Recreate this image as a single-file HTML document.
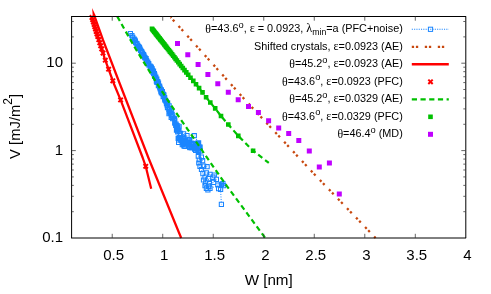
<!DOCTYPE html>
<html><head><meta charset="utf-8"><title>plot</title>
<style>html,body{margin:0;padding:0;background:#fff;}body{width:491px;height:294px;overflow:hidden;font-family:"Liberation Sans",sans-serif;}</style>
</head><body>
<svg width="491" height="294" viewBox="0 0 491 294" style="display:block;will-change:transform">
<rect width="491" height="294" fill="#fff"/>
<path d="M130.45,33.53 L131.93,35.70 L132.84,37.42 L134.15,39.03 L134.83,40.09 L135.38,41.18 L135.64,42.45 L136.78,43.47 L137.00,44.01 L137.84,45.44 L138.77,46.66 L139.48,47.62 L140.11,49.00 L140.56,50.44 L141.50,51.43 L141.90,52.06 L142.63,53.33 L143.54,54.53 L143.93,55.36 L144.54,57.04 L145.10,57.92 L146.06,58.62 L146.60,60.46 L146.68,61.18 L147.83,62.19 L148.66,63.50 L148.77,64.83 L150.08,65.97 L150.99,66.93 L151.28,67.62 L151.96,68.65 L152.14,69.34 L152.41,70.41 L153.54,70.96 L153.01,72.45 L154.39,73.46 L153.61,73.60 L154.79,74.97 L154.64,76.32 L155.85,77.04 L155.92,78.03 L156.83,79.00 L156.80,79.90 L156.36,81.01 L157.76,81.74 L156.95,82.37 L158.51,83.00 L158.46,84.63 L158.35,85.70 L159.56,86.18 L159.85,87.30 L160.14,88.35 L160.16,88.88 L161.36,89.91 L160.82,91.07 L162.36,91.64 L161.32,92.64 L162.33,93.52 L163.53,94.26 L163.86,95.12 L163.15,96.52 L164.60,97.49 L164.56,98.23 L164.84,99.26 L165.05,100.11 L165.88,100.96 L166.39,102.02 L167.56,102.88 L166.45,103.62 L167.10,104.87 L167.29,105.65 L169.10,105.83 L167.54,107.46 L168.95,108.37 L168.78,109.40 L169.66,110.02 L171.60,111.16 L169.85,111.97 L170.48,112.90 L168.99,113.71 L172.20,114.46 L171.77,115.91 L172.89,116.97 L171.24,117.42 L172.72,118.59 L174.29,118.68 L174.70,119.91 L174.76,120.82 L174.72,122.41 L174.83,123.08 L176.06,123.99 L175.66,125.25 L177.09,125.72 L179.07,126.43 L177.76,127.58 L177.39,128.75 L177.86,129.65 L176.51,130.04 L179.03,131.10 L177.74,131.90 L180.48,133.38 L198.51,143.40 L189.96,147.67 L186.99,135.57 L184.95,146.42 L194.52,147.07 L183.97,137.78 L183.62,133.93 L191.91,147.89 L184.93,140.86 L189.89,144.17 L189.66,139.61 L183.42,143.17 L183.26,140.24 L189.59,147.17 L184.90,143.26 L195.63,150.37 L188.10,143.14 L178.68,139.79 L179.31,137.51 L188.71,140.22 L184.33,141.72 L196.68,148.51 L183.87,145.77 L187.79,142.16 L196.61,148.92 L187.78,143.50 L187.16,142.68 L198.00,142.89 L198.69,151.27 L199.16,146.77 L181.12,140.51 L185.65,143.00 L196.02,145.54 L193.68,144.58 L198.37,147.02 L197.89,149.84 L200.14,147.06 L186.98,142.87 L182.31,144.64 L178.19,138.25 L178.56,142.34 L192.96,146.83 L196.11,146.27 L186.60,142.64 L185.54,143.55 L198.53,145.83 L183.50,138.77 L194.06,146.13 L193.04,145.99 L197.27,144.42 L181.03,139.04 L196.07,147.87 L191.46,143.34 L180.84,139.90 L181.50,140.75 L182.85,142.97 L194.60,149.18 L182.60,141.10 L186.20,141.79 L191.08,146.97 L200.37,150.86 L185.80,143.26 L185.43,142.57 L198.38,152.44 L193.04,143.72 L186.89,142.76 L180.43,137.68 L184.41,143.08 L196.81,145.41 L183.73,144.08 L194.30,135.70 L198.60,142.90 L198.30,156.10 L201.40,157.10 L199.30,160.00 L202.60,160.70 L198.80,163.00 L200.00,166.40 L203.60,166.10 L207.10,166.70 L201.50,169.50 L202.90,173.60 L206.40,172.90 L210.00,174.30 L214.30,175.00 L205.00,177.10 L208.60,178.60 L212.90,177.10 L216.40,179.30 L203.50,180.00 L205.70,182.90 L209.30,183.60 L213.60,182.40 L205.00,185.60 L208.60,186.30 L206.40,188.40 L210.00,188.30 L207.90,190.00 L217.90,185.00 L221.40,184.30 L223.60,185.70 L218.60,188.60 L222.90,183.60 L220.60,189.50 L221.40,204.30" fill="none" stroke="#1a85ff" stroke-width="1" stroke-dasharray="1 1.5"/>
<path d="M128.3,31.4h4.2v4.2h-4.2zM129.8,33.6h4.2v4.2h-4.2zM130.7,35.3h4.2v4.2h-4.2zM132.1,36.9h4.2v4.2h-4.2zM132.7,38.0h4.2v4.2h-4.2zM133.3,39.1h4.2v4.2h-4.2zM133.5,40.4h4.2v4.2h-4.2zM134.7,41.4h4.2v4.2h-4.2zM134.9,41.9h4.2v4.2h-4.2zM135.7,43.3h4.2v4.2h-4.2zM136.7,44.6h4.2v4.2h-4.2zM137.4,45.5h4.2v4.2h-4.2zM138.0,46.9h4.2v4.2h-4.2zM138.5,48.3h4.2v4.2h-4.2zM139.4,49.3h4.2v4.2h-4.2zM139.8,50.0h4.2v4.2h-4.2zM140.5,51.2h4.2v4.2h-4.2zM141.4,52.4h4.2v4.2h-4.2zM141.8,53.3h4.2v4.2h-4.2zM142.4,54.9h4.2v4.2h-4.2zM143.0,55.8h4.2v4.2h-4.2zM144.0,56.5h4.2v4.2h-4.2zM144.5,58.4h4.2v4.2h-4.2zM144.6,59.1h4.2v4.2h-4.2zM145.7,60.1h4.2v4.2h-4.2zM146.6,61.4h4.2v4.2h-4.2zM146.7,62.7h4.2v4.2h-4.2zM148.0,63.9h4.2v4.2h-4.2zM148.9,64.8h4.2v4.2h-4.2zM149.2,65.5h4.2v4.2h-4.2zM149.9,66.5h4.2v4.2h-4.2zM150.0,67.2h4.2v4.2h-4.2zM150.3,68.3h4.2v4.2h-4.2zM151.4,68.9h4.2v4.2h-4.2zM150.9,70.3h4.2v4.2h-4.2zM152.3,71.4h4.2v4.2h-4.2zM151.5,71.5h4.2v4.2h-4.2zM152.7,72.9h4.2v4.2h-4.2zM152.5,74.2h4.2v4.2h-4.2zM153.7,74.9h4.2v4.2h-4.2zM153.8,75.9h4.2v4.2h-4.2zM154.7,76.9h4.2v4.2h-4.2zM154.7,77.8h4.2v4.2h-4.2zM154.3,78.9h4.2v4.2h-4.2zM155.7,79.6h4.2v4.2h-4.2zM154.8,80.3h4.2v4.2h-4.2zM156.4,80.9h4.2v4.2h-4.2zM156.4,82.5h4.2v4.2h-4.2zM156.3,83.6h4.2v4.2h-4.2zM157.5,84.1h4.2v4.2h-4.2zM157.7,85.2h4.2v4.2h-4.2zM158.0,86.2h4.2v4.2h-4.2zM158.1,86.8h4.2v4.2h-4.2zM159.3,87.8h4.2v4.2h-4.2zM158.7,89.0h4.2v4.2h-4.2zM160.3,89.5h4.2v4.2h-4.2zM159.2,90.5h4.2v4.2h-4.2zM160.2,91.4h4.2v4.2h-4.2zM161.4,92.2h4.2v4.2h-4.2zM161.8,93.0h4.2v4.2h-4.2zM161.1,94.4h4.2v4.2h-4.2zM162.5,95.4h4.2v4.2h-4.2zM162.5,96.1h4.2v4.2h-4.2zM162.7,97.2h4.2v4.2h-4.2zM162.9,98.0h4.2v4.2h-4.2zM163.8,98.9h4.2v4.2h-4.2zM164.3,99.9h4.2v4.2h-4.2zM165.5,100.8h4.2v4.2h-4.2zM164.4,101.5h4.2v4.2h-4.2zM165.0,102.8h4.2v4.2h-4.2zM165.2,103.6h4.2v4.2h-4.2zM167.0,103.7h4.2v4.2h-4.2zM165.4,105.4h4.2v4.2h-4.2zM166.9,106.3h4.2v4.2h-4.2zM166.7,107.3h4.2v4.2h-4.2zM167.6,107.9h4.2v4.2h-4.2zM169.5,109.1h4.2v4.2h-4.2zM167.7,109.9h4.2v4.2h-4.2zM168.4,110.8h4.2v4.2h-4.2zM166.9,111.6h4.2v4.2h-4.2zM170.1,112.4h4.2v4.2h-4.2zM169.7,113.8h4.2v4.2h-4.2zM170.8,114.9h4.2v4.2h-4.2zM169.1,115.3h4.2v4.2h-4.2zM170.6,116.5h4.2v4.2h-4.2zM172.2,116.6h4.2v4.2h-4.2zM172.6,117.8h4.2v4.2h-4.2zM172.7,118.7h4.2v4.2h-4.2zM172.6,120.3h4.2v4.2h-4.2zM172.7,121.0h4.2v4.2h-4.2zM174.0,121.9h4.2v4.2h-4.2zM173.6,123.2h4.2v4.2h-4.2zM175.0,123.6h4.2v4.2h-4.2zM177.0,124.3h4.2v4.2h-4.2zM175.7,125.5h4.2v4.2h-4.2zM175.3,126.6h4.2v4.2h-4.2zM175.8,127.6h4.2v4.2h-4.2zM174.4,127.9h4.2v4.2h-4.2zM176.9,129.0h4.2v4.2h-4.2zM175.6,129.8h4.2v4.2h-4.2zM178.4,131.3h4.2v4.2h-4.2zM196.4,141.3h4.2v4.2h-4.2zM187.9,145.6h4.2v4.2h-4.2zM184.9,133.5h4.2v4.2h-4.2zM182.8,144.3h4.2v4.2h-4.2zM192.4,145.0h4.2v4.2h-4.2zM181.9,135.7h4.2v4.2h-4.2zM181.5,131.8h4.2v4.2h-4.2zM189.8,145.8h4.2v4.2h-4.2zM182.8,138.8h4.2v4.2h-4.2zM187.8,142.1h4.2v4.2h-4.2zM187.6,137.5h4.2v4.2h-4.2zM181.3,141.1h4.2v4.2h-4.2zM181.2,138.1h4.2v4.2h-4.2zM187.5,145.1h4.2v4.2h-4.2zM182.8,141.2h4.2v4.2h-4.2zM193.5,148.3h4.2v4.2h-4.2zM186.0,141.0h4.2v4.2h-4.2zM176.6,137.7h4.2v4.2h-4.2zM177.2,135.4h4.2v4.2h-4.2zM186.6,138.1h4.2v4.2h-4.2zM182.2,139.6h4.2v4.2h-4.2zM194.6,146.4h4.2v4.2h-4.2zM181.8,143.7h4.2v4.2h-4.2zM185.7,140.1h4.2v4.2h-4.2zM194.5,146.8h4.2v4.2h-4.2zM185.7,141.4h4.2v4.2h-4.2zM185.1,140.6h4.2v4.2h-4.2zM195.9,140.8h4.2v4.2h-4.2zM196.6,149.2h4.2v4.2h-4.2zM197.1,144.7h4.2v4.2h-4.2zM179.0,138.4h4.2v4.2h-4.2zM183.6,140.9h4.2v4.2h-4.2zM193.9,143.4h4.2v4.2h-4.2zM191.6,142.5h4.2v4.2h-4.2zM196.3,144.9h4.2v4.2h-4.2zM195.8,147.7h4.2v4.2h-4.2zM198.0,145.0h4.2v4.2h-4.2zM184.9,140.8h4.2v4.2h-4.2zM180.2,142.5h4.2v4.2h-4.2zM176.1,136.2h4.2v4.2h-4.2zM176.5,140.2h4.2v4.2h-4.2zM190.9,144.7h4.2v4.2h-4.2zM194.0,144.2h4.2v4.2h-4.2zM184.5,140.5h4.2v4.2h-4.2zM183.4,141.4h4.2v4.2h-4.2zM196.4,143.7h4.2v4.2h-4.2zM181.4,136.7h4.2v4.2h-4.2zM192.0,144.0h4.2v4.2h-4.2zM190.9,143.9h4.2v4.2h-4.2zM195.2,142.3h4.2v4.2h-4.2zM178.9,136.9h4.2v4.2h-4.2zM194.0,145.8h4.2v4.2h-4.2zM189.4,141.2h4.2v4.2h-4.2zM178.7,137.8h4.2v4.2h-4.2zM179.4,138.6h4.2v4.2h-4.2zM180.7,140.9h4.2v4.2h-4.2zM192.5,147.1h4.2v4.2h-4.2zM180.5,139.0h4.2v4.2h-4.2zM184.1,139.7h4.2v4.2h-4.2zM189.0,144.9h4.2v4.2h-4.2zM198.3,148.8h4.2v4.2h-4.2zM183.7,141.2h4.2v4.2h-4.2zM183.3,140.5h4.2v4.2h-4.2zM196.3,150.3h4.2v4.2h-4.2zM190.9,141.6h4.2v4.2h-4.2zM184.8,140.7h4.2v4.2h-4.2zM178.3,135.6h4.2v4.2h-4.2zM182.3,141.0h4.2v4.2h-4.2zM194.7,143.3h4.2v4.2h-4.2zM181.6,142.0h4.2v4.2h-4.2zM192.2,133.6h4.2v4.2h-4.2zM196.5,140.8h4.2v4.2h-4.2zM196.2,154.0h4.2v4.2h-4.2zM199.3,155.0h4.2v4.2h-4.2zM197.2,157.9h4.2v4.2h-4.2zM200.5,158.6h4.2v4.2h-4.2zM196.7,160.9h4.2v4.2h-4.2zM197.9,164.3h4.2v4.2h-4.2zM201.5,164.0h4.2v4.2h-4.2zM205.0,164.6h4.2v4.2h-4.2zM199.4,167.4h4.2v4.2h-4.2zM200.8,171.5h4.2v4.2h-4.2zM204.3,170.8h4.2v4.2h-4.2zM207.9,172.2h4.2v4.2h-4.2zM212.2,172.9h4.2v4.2h-4.2zM202.9,175.0h4.2v4.2h-4.2zM206.5,176.5h4.2v4.2h-4.2zM210.8,175.0h4.2v4.2h-4.2zM214.3,177.2h4.2v4.2h-4.2zM201.4,177.9h4.2v4.2h-4.2zM203.6,180.8h4.2v4.2h-4.2zM207.2,181.5h4.2v4.2h-4.2zM211.5,180.3h4.2v4.2h-4.2zM202.9,183.5h4.2v4.2h-4.2zM206.5,184.2h4.2v4.2h-4.2zM204.3,186.3h4.2v4.2h-4.2zM207.9,186.2h4.2v4.2h-4.2zM205.8,187.9h4.2v4.2h-4.2zM215.8,182.9h4.2v4.2h-4.2zM219.3,182.2h4.2v4.2h-4.2zM221.5,183.6h4.2v4.2h-4.2zM216.5,186.5h4.2v4.2h-4.2zM220.8,181.5h4.2v4.2h-4.2zM218.5,187.4h4.2v4.2h-4.2zM219.3,202.2h4.2v4.2h-4.2z" fill="none" stroke="#1a85ff" stroke-width="1.05"/>
<path d="M170.70,17.30 L243.50,98.20 L314.60,174.50 L375.60,238.00" fill="none" stroke="#c8480f" stroke-width="2.3" stroke-dasharray="2.3 2.2 2.3 6.26" stroke-dashoffset="1.3"/>
<clipPath id="c"><rect x="71.6" y="16.5" width="393.9" height="221.5"/></clipPath>
<path d="M94.60,16.40 L103.00,40.00 L119.90,84.00 L148.50,158.00 L178.70,232.00 L181.20,238.00" fill="none" stroke="#ff0000" stroke-width="2.25" stroke-linejoin="round"/>
<path d="M92.1,8 L92.8,16.6 L96.1,16.6 Z" fill="#ff0000"/>
<path d="M91.70,16.40 L96.20,31.50 L104.90,59.10 L114.00,84.00 L120.60,99.90 L142.80,158.00 L145.70,166.30 L151.20,188.70" fill="none" stroke="#ff0000" stroke-width="2.25" stroke-linejoin="round"/>
<path d="M89.8,15.3L94.2,19.7M89.8,19.7L94.2,15.3" stroke="#ff0000" stroke-width="2.0" fill="none"/>
<path d="M90.5,17.6L94.9,22.0M90.5,22.0L94.9,17.6" stroke="#ff0000" stroke-width="2.0" fill="none"/>
<path d="M91.2,19.9L95.6,24.3M91.2,24.3L95.6,19.9" stroke="#ff0000" stroke-width="2.0" fill="none"/>
<path d="M91.9,22.2L96.3,26.6M91.9,26.6L96.3,22.2" stroke="#ff0000" stroke-width="2.0" fill="none"/>
<path d="M92.6,24.6L97.0,29.0M92.6,29.0L97.0,24.6" stroke="#ff0000" stroke-width="2.0" fill="none"/>
<path d="M93.3,26.9L97.7,31.3M93.3,31.3L97.7,26.9" stroke="#ff0000" stroke-width="2.0" fill="none"/>
<path d="M94.0,29.3L98.4,33.7M94.0,33.7L98.4,29.3" stroke="#ff0000" stroke-width="2.0" fill="none"/>
<path d="M94.8,31.9L99.2,36.3M94.8,36.3L99.2,31.9" stroke="#ff0000" stroke-width="2.0" fill="none"/>
<path d="M95.6,34.4L100.0,38.8M95.6,38.8L100.0,34.4" stroke="#ff0000" stroke-width="2.0" fill="none"/>
<path d="M96.6,37.5L101.0,41.9M96.6,41.9L101.0,37.5" stroke="#ff0000" stroke-width="2.0" fill="none"/>
<path d="M97.6,40.6L102.0,45.0M97.6,45.0L102.0,40.6" stroke="#ff0000" stroke-width="2.0" fill="none"/>
<path d="M98.5,43.6L102.9,48.0M98.5,48.0L102.9,43.6" stroke="#ff0000" stroke-width="2.0" fill="none"/>
<path d="M99.5,46.7L103.9,51.1M99.5,51.1L103.9,46.7" stroke="#ff0000" stroke-width="2.0" fill="none"/>
<path d="M100.8,50.9L105.2,55.3M100.8,55.3L105.2,50.9" stroke="#ff0000" stroke-width="2.0" fill="none"/>
<path d="M103.1,58.0L107.5,62.4M103.1,62.4L107.5,58.0" stroke="#ff0000" stroke-width="2.0" fill="none"/>
<path d="M106.4,67.0L110.8,71.4M106.4,71.4L110.8,67.0" stroke="#ff0000" stroke-width="2.0" fill="none"/>
<path d="M110.6,78.6L115.0,83.0M110.6,83.0L115.0,78.6" stroke="#ff0000" stroke-width="2.0" fill="none"/>
<path d="M118.4,97.7L122.8,102.1M118.4,102.1L122.8,97.7" stroke="#ff0000" stroke-width="2.0" fill="none"/>
<path d="M143.5,164.1L147.9,168.5M143.5,168.5L147.9,164.1" stroke="#ff0000" stroke-width="2.0" fill="none"/>
<path d="M117.30,16.40 L127.10,34.00 L135.60,48.80 L148.90,70.50 L158.40,85.80 L167.80,100.30 L177.60,114.90 L187.60,129.30 L197.70,144.00 L207.40,158.20 L217.10,172.10 L227.10,186.40 L244.50,209.90 L265.20,238.00" fill="none" stroke="#00c000" stroke-width="2.2" stroke-dasharray="5.2 3.5"/>
<path d="M151.80,28.60 L190.50,77.70 L193.30,80.90 L196.00,84.20 L199.10,88.10 L202.50,92.40 L206.10,97.30 L210.30,102.50 L215.20,108.40 L221.00,116.00 L228.30,124.50 L238.30,135.90 L253.10,150.80 L268.80,162.90" fill="none" stroke="#00c000" stroke-width="2.2" stroke-dasharray="5.2 3.5"/>
<path d="M185.9,72.5h4.6v4.6h-4.6zM184.0,70.1h4.6v4.6h-4.6zM182.2,67.8h4.6v4.6h-4.6zM180.5,65.7h4.6v4.6h-4.6zM178.9,63.7h4.6v4.6h-4.6zM177.4,61.8h4.6v4.6h-4.6zM176.0,59.9h4.6v4.6h-4.6zM174.6,58.2h4.6v4.6h-4.6zM173.3,56.6h4.6v4.6h-4.6zM172.1,55.0h4.6v4.6h-4.6zM170.9,53.5h4.6v4.6h-4.6zM169.8,52.0h4.6v4.6h-4.6zM168.7,50.6h4.6v4.6h-4.6zM167.6,49.3h4.6v4.6h-4.6zM166.6,48.0h4.6v4.6h-4.6zM165.6,46.7h4.6v4.6h-4.6zM164.6,45.5h4.6v4.6h-4.6zM163.7,44.3h4.6v4.6h-4.6zM162.8,43.2h4.6v4.6h-4.6zM162.0,42.1h4.6v4.6h-4.6zM161.1,41.0h4.6v4.6h-4.6zM160.3,40.0h4.6v4.6h-4.6zM159.5,39.0h4.6v4.6h-4.6zM158.7,38.0h4.6v4.6h-4.6zM158.0,37.1h4.6v4.6h-4.6zM157.3,36.1h4.6v4.6h-4.6zM156.5,35.2h4.6v4.6h-4.6zM155.8,34.3h4.6v4.6h-4.6zM155.2,33.5h4.6v4.6h-4.6zM154.5,32.6h4.6v4.6h-4.6zM153.8,31.8h4.6v4.6h-4.6zM153.2,31.0h4.6v4.6h-4.6zM152.6,30.2h4.6v4.6h-4.6zM152.0,29.4h4.6v4.6h-4.6zM151.4,28.7h4.6v4.6h-4.6zM150.8,27.9h4.6v4.6h-4.6zM150.2,27.2h4.6v4.6h-4.6zM149.7,26.5h4.6v4.6h-4.6zM188.2,75.4h4.6v4.6h-4.6zM191.0,78.6h4.6v4.6h-4.6zM193.7,81.9h4.6v4.6h-4.6zM196.8,85.8h4.6v4.6h-4.6zM200.2,90.1h4.6v4.6h-4.6zM203.8,95.0h4.6v4.6h-4.6zM208.0,100.2h4.6v4.6h-4.6zM212.9,106.1h4.6v4.6h-4.6zM218.7,113.7h4.6v4.6h-4.6zM226.0,122.2h4.6v4.6h-4.6zM236.0,133.6h4.6v4.6h-4.6zM250.8,148.5h4.6v4.6h-4.6z" fill="#00c000"/>
<path d="M175.0,40.9h5.0v5.0h-5.0zM185.3,52.2h5.0v5.0h-5.0zM195.6,61.9h5.0v5.0h-5.0zM205.4,71.9h5.0v5.0h-5.0zM215.3,81.2h5.0v5.0h-5.0zM225.8,89.7h5.0v5.0h-5.0zM235.7,97.2h5.0v5.0h-5.0zM246.0,103.9h5.0v5.0h-5.0zM255.9,110.1h5.0v5.0h-5.0zM266.1,118.3h5.0v5.0h-5.0zM276.2,125.5h5.0v5.0h-5.0zM286.2,130.9h5.0v5.0h-5.0zM296.3,137.9h5.0v5.0h-5.0zM306.8,148.4h5.0v5.0h-5.0zM316.8,164.5h5.0v5.0h-5.0zM326.9,160.5h5.0v5.0h-5.0zM336.8,191.5h5.0v5.0h-5.0z" fill="#c000ff"/>
<path d="M71.1,16.5H466.1M71.6,16.5V238.0M465.8,16.5V238.0M71.1,238.0H466.1" fill="none" stroke="#000" stroke-width="1"/>
<path d="M112.22,238.0v-4.2M112.22,16.5v4.2M162.73,238.0v-4.2M162.73,16.5v4.2M213.25,238.0v-4.2M213.25,16.5v4.2M263.76,238.0v-4.2M263.76,16.5v4.2M314.27,238.0v-4.2M314.27,16.5v4.2M364.79,238.0v-4.2M364.79,16.5v4.2M415.31,238.0v-4.2M415.31,16.5v4.2M71.6,211.69h2.2M465.5,211.69h-2.2M71.6,196.30h2.2M465.5,196.30h-2.2M71.6,185.38h2.2M465.5,185.38h-2.2M71.6,176.91h2.2M465.5,176.91h-2.2M71.6,169.99h2.2M465.5,169.99h-2.2M71.6,164.14h2.2M465.5,164.14h-2.2M71.6,159.07h2.2M465.5,159.07h-2.2M71.6,154.60h2.2M465.5,154.60h-2.2M71.6,150.60h4.2M465.5,150.60h-4.2M71.6,124.29h2.2M465.5,124.29h-2.2M71.6,108.90h2.2M465.5,108.90h-2.2M71.6,97.98h2.2M465.5,97.98h-2.2M71.6,89.51h2.2M465.5,89.51h-2.2M71.6,82.59h2.2M465.5,82.59h-2.2M71.6,76.74h2.2M465.5,76.74h-2.2M71.6,71.67h2.2M465.5,71.67h-2.2M71.6,67.20h2.2M465.5,67.20h-2.2M71.6,63.20h4.2M465.5,63.20h-4.2M71.6,36.89h2.2M465.5,36.89h-2.2M71.6,21.50h2.2M465.5,21.50h-2.2" fill="none" stroke="#333" stroke-width="0.75"/>
<text x="113.7" y="259.5" font-size="15" text-anchor="middle" font-family="Liberation Sans, sans-serif">0.5</text>
<text x="164.2" y="259.5" font-size="15" text-anchor="middle" font-family="Liberation Sans, sans-serif">1</text>
<text x="214.7" y="259.5" font-size="15" text-anchor="middle" font-family="Liberation Sans, sans-serif">1.5</text>
<text x="265.3" y="259.5" font-size="15" text-anchor="middle" font-family="Liberation Sans, sans-serif">2</text>
<text x="315.8" y="259.5" font-size="15" text-anchor="middle" font-family="Liberation Sans, sans-serif">2.5</text>
<text x="366.3" y="259.5" font-size="15" text-anchor="middle" font-family="Liberation Sans, sans-serif">3</text>
<text x="416.8" y="259.5" font-size="15" text-anchor="middle" font-family="Liberation Sans, sans-serif">3.5</text>
<text x="467.3" y="259.5" font-size="15" text-anchor="middle" font-family="Liberation Sans, sans-serif">4</text>
<text x="63" y="242.2" font-size="15" text-anchor="end" font-family="Liberation Sans, sans-serif">0.1</text>
<text x="63" y="154.8" font-size="15" text-anchor="end" font-family="Liberation Sans, sans-serif">1</text>
<text x="63" y="67.4" font-size="15" text-anchor="end" font-family="Liberation Sans, sans-serif">10</text>
<text x="268.7" y="285.4" font-size="15.2" text-anchor="middle" font-family="Liberation Sans, sans-serif">W [nm]</text>
<text transform="translate(20.3,126.4) rotate(-90)" font-size="14.8" text-anchor="middle" font-family="Liberation Sans, sans-serif">V [mJ/m<tspan dy="-8.5" font-size="12">2</tspan><tspan dy="8.5">]</tspan></text>
<text x="402.8" y="32.4" font-size="10.85" text-anchor="end" font-family="Liberation Sans, sans-serif"><tspan dy="0.6"><tspan font-family="Liberation Serif, serif" font-size="11.8">θ</tspan></tspan><tspan dy="-0.6">=</tspan>43.6<tspan dy="-4.7" font-size="9.3">o</tspan><tspan dy="4.7">, </tspan><tspan font-family="Liberation Serif, serif" font-size="12.0">ε</tspan> = 0.0923, <tspan font-family="Liberation Serif, serif" font-size="12.3">λ</tspan><tspan dy="3" font-size="8.7">min</tspan><tspan dy="-3">=a (PFC+noise)</tspan></text>
<text x="402.8" y="49.9" font-size="10.85" text-anchor="end" font-family="Liberation Sans, sans-serif">Shifted crystals, <tspan font-family="Liberation Serif, serif" font-size="12.0">ε</tspan>=0.0923 (AE)</text>
<text x="402.8" y="67.4" font-size="10.85" text-anchor="end" font-family="Liberation Sans, sans-serif"><tspan dy="0.6"><tspan font-family="Liberation Serif, serif" font-size="11.8">θ</tspan></tspan><tspan dy="-0.6">=</tspan>45.2<tspan dy="-4.7" font-size="9.3">o</tspan><tspan dy="4.7">, </tspan><tspan font-family="Liberation Serif, serif" font-size="12.0">ε</tspan>=0.0923 (AE)</text>
<text x="402.8" y="84.9" font-size="10.85" text-anchor="end" font-family="Liberation Sans, sans-serif"><tspan dy="0.6"><tspan font-family="Liberation Serif, serif" font-size="11.8">θ</tspan></tspan><tspan dy="-0.6">=</tspan>43.6<tspan dy="-4.7" font-size="9.3">o</tspan><tspan dy="4.7">, </tspan><tspan font-family="Liberation Serif, serif" font-size="12.0">ε</tspan>=0.0923 (PFC)</text>
<text x="402.8" y="102.4" font-size="10.85" text-anchor="end" font-family="Liberation Sans, sans-serif"><tspan dy="0.6"><tspan font-family="Liberation Serif, serif" font-size="11.8">θ</tspan></tspan><tspan dy="-0.6">=</tspan>45.2<tspan dy="-4.7" font-size="9.3">o</tspan><tspan dy="4.7">, </tspan><tspan font-family="Liberation Serif, serif" font-size="12.0">ε</tspan>=0.0329 (AE)</text>
<text x="402.8" y="119.9" font-size="10.85" text-anchor="end" font-family="Liberation Sans, sans-serif"><tspan dy="0.6"><tspan font-family="Liberation Serif, serif" font-size="11.8">θ</tspan></tspan><tspan dy="-0.6">=</tspan>43.6<tspan dy="-4.7" font-size="9.3">o</tspan><tspan dy="4.7">, </tspan><tspan font-family="Liberation Serif, serif" font-size="12.0">ε</tspan>=0.0329 (PFC)</text>
<text x="402.8" y="137.4" font-size="10.85" text-anchor="end" font-family="Liberation Sans, sans-serif"><tspan dy="0.6"><tspan font-family="Liberation Serif, serif" font-size="11.8">θ</tspan></tspan><tspan dy="-0.6">=</tspan>46.4<tspan dy="-4.7" font-size="9.3">o</tspan><tspan dy="4.7"> (MD)</tspan></text>
<path d="M411.8,29.3H448.8" stroke="#1a85ff" stroke-width="1.1" stroke-dasharray="1.1 1.2"/>
<rect x="428.4" y="27.2" width="4.2" height="4.2" fill="none" stroke="#1a85ff" stroke-width="1"/>
<path d="M411.8,46.8H448.8" stroke="#c8480f" stroke-width="2.3" stroke-dasharray="2.3 1.8 2.3 6.6"/>
<path d="M411.8,64.3H448.8" stroke="#ff0000" stroke-width="2.5"/>
<path d="M428.3,79.6L432.7,84.0M428.3,84.0L432.7,79.6" stroke="#ff0000" stroke-width="2.0" fill="none"/>
<path d="M411.8,99.3H448.8" stroke="#00c000" stroke-width="2.2" stroke-dasharray="5.2 3.5"/>
<rect x="428.2" y="114.5" width="4.6" height="4.6" fill="#00c000"/>
<rect x="428.0" y="131.8" width="5.0" height="5.0" fill="#c000ff"/>
</svg>
</body></html>
